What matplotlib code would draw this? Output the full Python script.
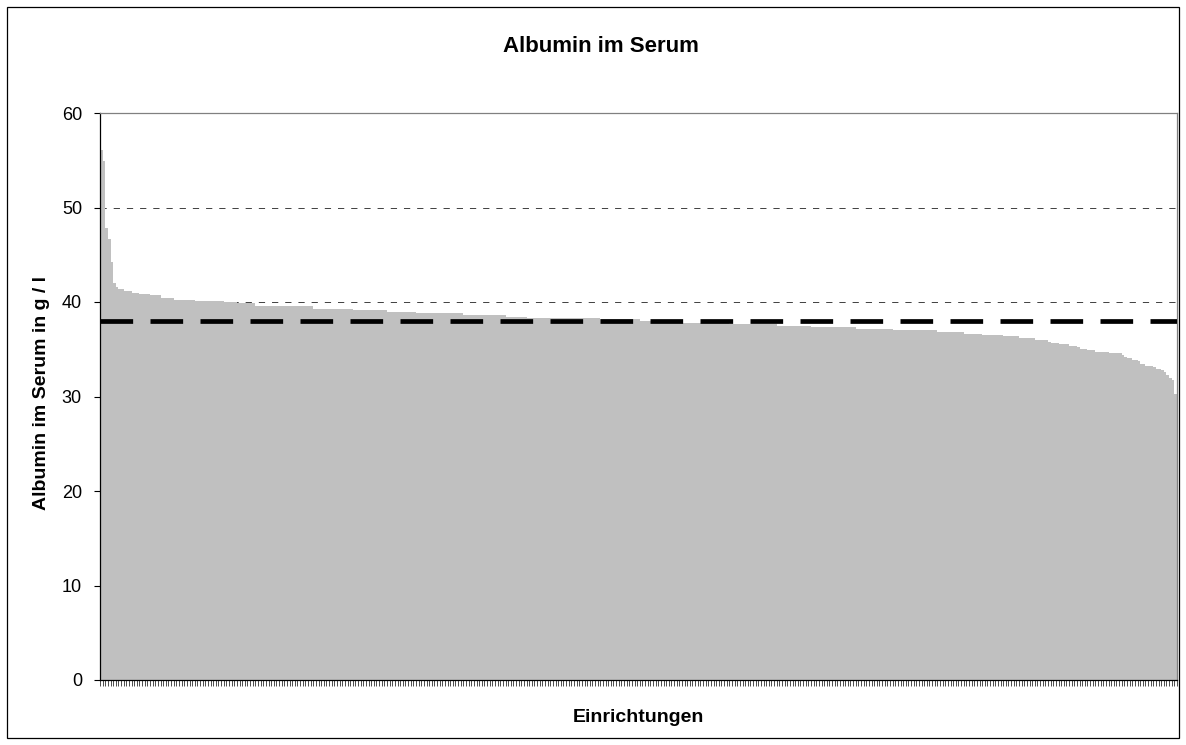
import numpy as np
import matplotlib
matplotlib.use("Agg")
import matplotlib.pyplot as plt
from matplotlib.patches import Rectangle

plt.rcParams["font.family"] = ["Liberation Sans", "DejaVu Sans"]
plt.rcParams["lines.scale_dashes"] = False

# facilities sorted by mean serum albumin (g/l): value level and number of facilities at it
levels = [56.1, 54.9, 47.8, 46.7, 44.2, 42.0, 41.6, 41.4, 41.2, 40.9,
          40.8, 40.7, 40.4, 40.2, 40.1, 40.0, 39.85, 39.6, 39.3, 39.15,
          38.9, 38.8, 38.6, 38.4, 38.3, 38.2, 38.0, 37.8, 37.66, 37.45,
          37.4, 37.1, 37.0, 36.8, 36.6, 36.55, 36.4, 36.2, 36.0, 35.8,
          35.65, 35.55, 35.3, 35.2, 35.0, 34.9, 34.7, 34.6, 34.4, 34.2,
          34.1, 33.9, 33.75, 33.45, 33.2, 33.1, 32.9, 32.8, 32.6, 32.3,
          31.95, 31.7, 30.3]
counts = [1, 1, 1, 1, 1, 1, 1, 2, 3, 3,
          4, 4, 5, 8, 11, 5, 7, 22, 15, 13,
          11, 18, 16, 8, 28, 15, 15, 19, 18, 13,
          17, 14, 17, 10, 7, 8, 6, 6, 5, 1,
          3, 4, 3, 1, 3, 3, 5, 5, 1, 1,
          2, 2, 1, 2, 3, 1, 2, 1, 1, 1,
          1, 1, 1]
target = 38.0
gridlines = [40, 50]
yticks = [0, 10, 20, 30, 40, 50, 60]

values = np.repeat(levels, counts)
n = len(values)
x = np.arange(n)

W, H = 1186, 745
fig = plt.figure(figsize=(W / 100, H / 100), dpi=100)
fig.patches.append(Rectangle((7 / W, 1 - 738 / H), 1172 / W, 731 / H,
                             transform=fig.transFigure, fill=False,
                             edgecolor="black", lw=0.9))

ax = fig.add_axes([100 / W, 1 - 680 / H, 1077 / W, 567 / H])
ax.bar(x, values, width=1.0, color="#c0c0c0", edgecolor="none", zorder=2)
for g in gridlines:
    ax.axhline(g, color="#404040", lw=0.7, dashes=(4.5, 5.0), zorder=1)
ax.axhline(target, color="black", lw=3.4, dashes=(23.5, 12.5), zorder=3)

ax.set_xlim(-0.5, n - 0.5)
ax.set_ylim(0, 60)
ax.set_yticks(yticks)
ax.set_xticks(np.arange(n + 1) - 0.5)
ax.set_xticklabels([])
ax.tick_params(axis="y", length=4, width=0.8, labelsize=13, pad=9)
ax.tick_params(axis="x", length=4, width=0.6, color="#303030")

for s in ("left", "bottom"):
    ax.spines[s].set_color("black")
    ax.spines[s].set_linewidth(0.9)
for s in ("top", "right"):
    ax.spines[s].set_color("#808080")
    ax.spines[s].set_linewidth(0.9)

fig.text(601 / W, 1 - 47 / H, "Albumin im Serum", ha="center", va="center",
         fontsize=16, fontweight="bold")
fig.text(638.5 / W, 1 - 717 / H, "Einrichtungen", ha="center", va="center",
         fontsize=14, fontweight="bold")
fig.text(42 / W, 1 - 393 / H, "Albumin im Serum in g / l", ha="center",
         va="center", rotation=90, fontsize=14, fontweight="bold")

fig.savefig("out.png", dpi=100)
